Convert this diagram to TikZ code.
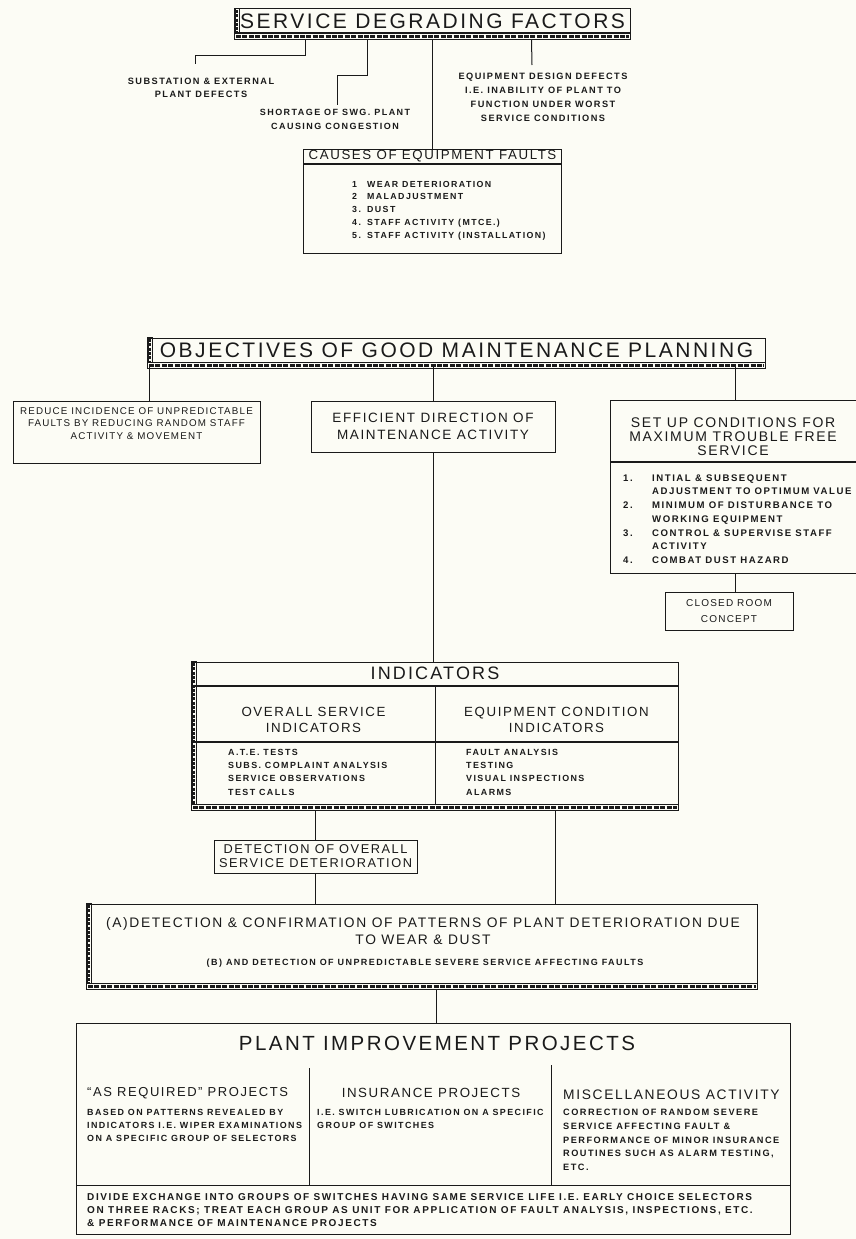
\documentclass[tikz,border=0pt]{standalone}
\usepackage{fontspec}
\setmainfont{Liberation Sans}
\newfontfamily\lettering{Liberation Sans}[LetterSpace=12]
\newfontfamily\letterbold{Liberation Sans}[LetterSpace=16]
\usetikzlibrary{positioning, calc}

\definecolor{paper}{HTML}{FCFCF5}
\definecolor{ink}{HTML}{1A1A1A}

\newcommand{\fsz}[2]{\lettering\fontsize{#1}{#2}\selectfont}
\newcommand{\fszb}[2]{\letterbold\bfseries\fontsize{#1}{#2}\selectfont}
\newcommand{\itm}[2][15pt]{\makebox[#1][l]{#2}}
% hatched edge: left strip and bottom strip of a box
\newcommand{\hatchbox}[3]{%
  \draw[ink, line width=0.6pt] (#1.north west) rectangle ($(#2.south west)+(4.5,0)$);
  \draw[ink, line width=2.6pt, dash pattern=on 3pt off 1.3pt] ($(#1.north west)+(2.25,1.5)$) -- ($(#2.south west)+(2.25,-1)$);
  \draw[ink, line width=0.6pt] (#2.south west) rectangle ($(#3.south east)+(0,6)$);
  \draw[ink, line width=3.2pt, dash pattern=on 5pt off 1.4pt] ($(#2.south west)+(1.5,3)$) -- ($(#3.south east)+(-1.5,3)$);
}

\tikzset{
  box/.style={draw=ink, line width=1pt, inner sep=0pt, align=center, text=ink},
  txt/.style={inner sep=0pt, align=center, text=ink},
  lst/.style={inner sep=0pt, align=left, text=ink},
  wire/.style={draw=ink, line width=1pt},
}

\begin{document}
\begin{tikzpicture}[x=1pt, y=-1pt]
  \useasboundingbox (0,0) rectangle (856,1239);
  \fill[paper] (0,0) rectangle (856,1239);

  % service degrading factors
  \node[box, minimum width=395pt, minimum height=24pt, font=\fsz{21}{24}] (sdf) at (432.5,21) {SERVICE DEGRADING FACTORS};
  \hatchbox{sdf}{sdf}{sdf}
  \node[txt, font=\fszb{9.2}{13}] (subst) at (201,88) {SUBSTATION \& EXTERNAL\\PLANT DEFECTS};
  \node[txt, font=\fszb{9}{14}] (swg) at (335,119.5) {SHORTAGE OF SWG.\ PLANT\\CAUSING CONGESTION};
  \node[txt, font=\fszb{9.2}{14}] (design) at (543,97) {EQUIPMENT DESIGN DEFECTS\\I.E.\ INABILITY OF PLANT TO\\FUNCTION UNDER WORST\\SERVICE CONDITIONS};
  \node[box, minimum width=258pt, minimum height=14pt, font=\fsz{13.3}{14}] (caushead) at (432.5,156) {CAUSES OF EQUIPMENT FAULTS};
  \node[box, minimum width=258pt, minimum height=89pt, below=0pt of caushead] (causbody) {};
  \node[lst, font=\fszb{8.8}{12.7}, anchor=west] (causlist) at (352,210.5) {\itm{1}WEAR DETERIORATION\\\itm{2}MALADJUSTMENT\\\itm{3.}DUST\\\itm{4.}STAFF ACTIVITY (MTCE.)\\\itm{5.}STAFF ACTIVITY (INSTALLATION)};

  \coordinate (substend) at (195,64);
  \coordinate (swgend) at (337,105);
  \coordinate (designend) at (532,65);
  \draw[wire] ($(sdf.south west)+(71,6)$) |- ($(substend)+(0,-8)$) -- (substend);
  \draw[wire] ($(sdf.south west)+(133,6)$) |- ($(swgend)+(0,-30)$) -- (swgend);
  \draw[wire] ($(sdf.south)+(0,6)$) -- (caushead.north);
  \draw[wire] ($(sdf.south west)+(297,6)$) -- (designend);

  % objectives
  \node[box, minimum width=617pt, minimum height=24pt, font=\fsz{21}{24}] (obj) at (456.5,350) {OBJECTIVES OF GOOD MAINTENANCE PLANNING};
  \hatchbox{obj}{obj}{obj}
  \node[box, minimum width=247pt, minimum height=62pt] (reduce) at (136.5,432) {};
  \node[txt, font=\fsz{9.8}{12.5}] (reducetxt) at (136.5,423.5) {REDUCE INCIDENCE OF UNPREDICTABLE\\FAULTS BY REDUCING RANDOM STAFF\\ACTIVITY \& MOVEMENT};
  \node[box, minimum width=244pt, minimum height=51pt, font=\fsz{13.5}{17}] (effic) at (433,426.5) {EFFICIENT DIRECTION OF\\MAINTENANCE ACTIVITY};
  \node[box, minimum width=250pt, minimum height=61pt] (setuphead) at (735,430.5) {};
  \node[txt, font=\fsz{14}{13.8}] (setuptxt) at (733,436.5) {SET UP CONDITIONS FOR\\MAXIMUM TROUBLE FREE\\SERVICE};
  \node[box, minimum width=250pt, minimum height=111pt, below=0pt of setuphead] (setupbody) {};
  \node[lst, font=\fszb{9.6}{13.7}, anchor=west] (setuplist) at (623,519) {\itm[29pt]{1.}INTIAL \& SUBSEQUENT\\\itm[29pt]{}ADJUSTMENT TO OPTIMUM VALUE\\\itm[29pt]{2.}MINIMUM OF DISTURBANCE TO\\\itm[29pt]{}WORKING EQUIPMENT\\\itm[29pt]{3.}CONTROL \& SUPERVISE STAFF\\\itm[29pt]{}ACTIVITY\\\itm[29pt]{4.}COMBAT DUST HAZARD};
  \node[box, minimum width=128pt, minimum height=38pt, font=\fsz{10}{16}] (closed) at (729,611) {CLOSED ROOM\\CONCEPT};

  \coordinate (objbot) at ($(obj.south)+(0,4)$);
  \coordinate (objleft) at ($(obj.south west)+(2,4)$);
  \draw[wire] (objleft) -- (objleft |- reduce.north);
  \draw[wire] (objbot -| effic.north) -- (effic.north);
  \draw[wire] (objbot -| setuphead.north) -- (setuphead.north);
  \draw[wire] (setupbody.south) -- (setupbody.south |- closed.north);

  % indicators
  \node[box, minimum width=486pt, minimum height=23pt, font=\fsz{18}{20}] (indhead) at (435,673.5) {INDICATORS};
  \node[box, minimum width=243pt, minimum height=55pt, anchor=north west] (ovsub) at (indhead.south west) {};
  \node[box, minimum width=243pt, minimum height=55pt, anchor=north east] (eqsub) at (indhead.south east) {};
  \node[box, minimum width=243pt, minimum height=62pt, below=0pt of ovsub] (ovlist) {};
  \node[box, minimum width=243pt, minimum height=62pt, below=0pt of eqsub] (eqlist) {};
  \hatchbox{indhead}{ovlist}{eqlist}
  \node[txt, font=\fsz{13.3}{16}] (ovtxt) at (313.5,720) {OVERALL SERVICE\\INDICATORS};
  \node[txt, font=\fsz{13.3}{16}] (eqtxt) at (556.5,720) {EQUIPMENT CONDITION\\INDICATORS};
  \node[lst, font=\fszb{8.9}{13.3}, anchor=west] (ovitems) at (228,772) {A.T.E.\ TESTS\\SUBS.\ COMPLAINT ANALYSIS\\SERVICE OBSERVATIONS\\TEST CALLS};
  \node[lst, font=\fszb{8.9}{13.3}, anchor=west] (eqitems) at (466,772) {FAULT ANALYSIS\\TESTING\\VISUAL INSPECTIONS\\ALARMS};
  \draw[wire] (effic.south) -- (effic.south |- indhead.north);

  % detection
  \node[box, minimum width=203pt, minimum height=33pt, font=\fsz{12.8}{14}] (detect) at (315.5,856.5) {DETECTION OF OVERALL\\SERVICE DETERIORATION};
  \node[box, minimum width=670pt, minimum height=79pt] (wear) at (422,943.5) {};
  \hatchbox{wear}{wear}{wear}
  \node[txt, font=\fsz{13.8}{17}] (weartxt) at (423,931.5) {(A)DETECTION \& CONFIRMATION OF PATTERNS OF PLANT DETERIORATION DUE\\TO WEAR \& DUST};
  \node[txt, font=\fszb{9}{10}] (faulttxt) at (425,963) {(B) AND DETECTION OF UNPREDICTABLE SEVERE SERVICE AFFECTING FAULTS};

  \coordinate (indbot) at ($(ovlist.south)+(0,6)$);
  \coordinate (eqdrop) at ($(eqlist.south)+(-1.5,6)$);
  \draw[wire] (indbot -| detect.north) -- (detect.north);
  \draw[wire] (detect.south) -- (detect.south |- wear.north);
  \draw[wire] (eqdrop) -- (eqdrop |- wear.north);

  % plant improvement projects
  \node[box, minimum width=714pt, minimum height=211pt] (plant) at (433,1128.5) {};
  \node[box, minimum width=714pt, minimum height=49pt, anchor=south] (divide) at (plant.south) {};
  \draw[wire] ($(divide.north west)+(234,0)$) -- ++(0,-117);
  \draw[wire] ($(divide.north west)+(476,0)$) -- ++(0,-120);
  \node[txt, font=\fsz{20.5}{22}] (plantttl) at (437,1043) {PLANT IMPROVEMENT PROJECTS};
  \node[lst, anchor=west, font=\fsz{13}{14}] (asreq) at (87,1093) {“AS REQUIRED” PROJECTS};
  \node[lst, anchor=west, font=\fszb{8.9}{13}] (asreqtxt) at (87,1125) {BASED ON PATTERNS REVEALED BY\\INDICATORS I.E.\ WIPER EXAMINATIONS\\ON A SPECIFIC GROUP OF SELECTORS};
  \node[txt, font=\fsz{13.3}{14}] (insur) at (431,1093) {INSURANCE PROJECTS};
  \node[lst, anchor=west, font=\fszb{8.9}{13}] (insurtxt) at (317,1118.5) {I.E.\ SWITCH LUBRICATION ON A SPECIFIC\\GROUP OF SWITCHES};
  \node[lst, anchor=west, font=\fsz{13.8}{14}] (misc) at (563,1095) {MISCELLANEOUS ACTIVITY};
  \node[lst, anchor=west, font=\fszb{9.2}{13.7}] (misctxt) at (563,1140) {CORRECTION OF RANDOM SEVERE\\SERVICE AFFECTING FAULT \&\\PERFORMANCE OF MINOR INSURANCE\\ROUTINES SUCH AS ALARM TESTING,\\ETC.};
  \node[lst, anchor=west, font=\fszb{10}{13}] (dividetxt) at (87,1210) {DIVIDE EXCHANGE INTO GROUPS OF SWITCHES HAVING SAME SERVICE LIFE I.E.\ EARLY CHOICE SELECTORS\\ON THREE RACKS; TREAT EACH GROUP AS UNIT FOR APPLICATION OF FAULT ANALYSIS, INSPECTIONS, ETC.\\\& PERFORMANCE OF MAINTENANCE PROJECTS};

  \coordinate (wearbot) at ($(wear.south)+(14,6)$);
  \draw[wire] (wearbot) -- (wearbot |- plant.north);
\end{tikzpicture}
\end{document}
